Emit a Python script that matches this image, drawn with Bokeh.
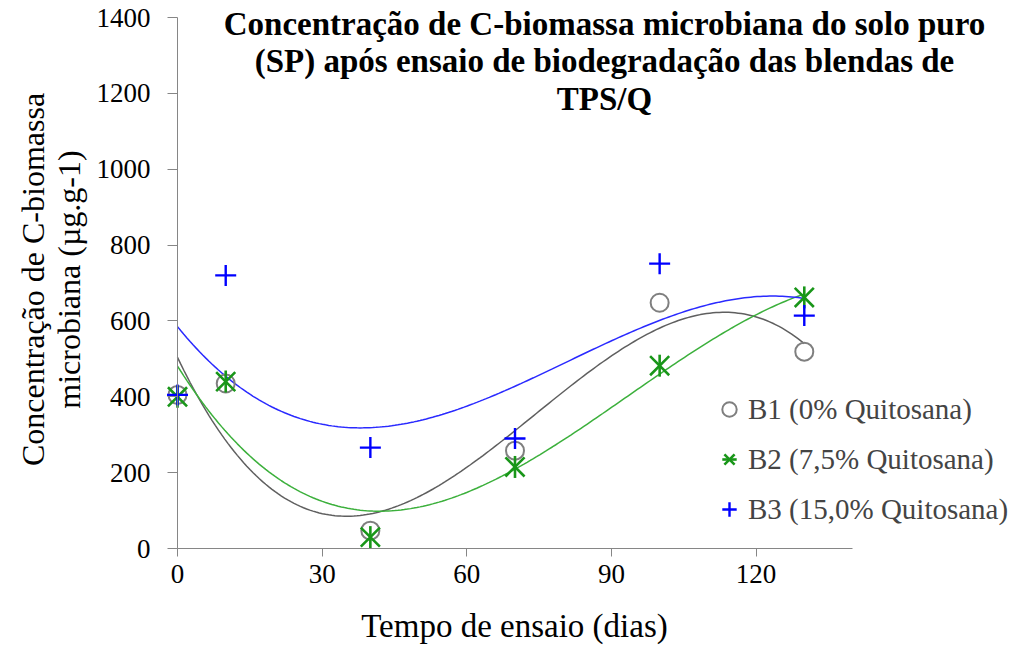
import numpy as np
from bokeh.plotting import figure
from bokeh.models import Range1d, FixedTicker, Label, Legend, LegendItem, LinearAxis
from bokeh.embed import file_html
from bokeh.resources import INLINE

days = [0, 10, 40, 70, 100, 130]
b1 = [405, 435, 47, 258, 648, 519]
b2 = [400, 440, 30, 215, 482, 662]
b3 = [405, 720, 266, 290, 751, 614]
names = ["B1 (0% Quitosana)", "B2 (7,5% Quitosana)", "B3 (15,0% Quitosana)"]
x_ticks = [0, 30, 60, 90, 120]
y_ticks = [0, 200, 400, 600, 800, 1000, 1200, 1400]
x_bounds = (0, 140)
y_bounds = (0, 1400)
title_lines = ["Concentração de C-biomassa microbiana do solo puro",
               "(SP) após ensaio de biodegradação das blendas de",
               "TPS/Q"]
ylabel_lines = ["Concentração de C-biomassa", "microbiana (µg.g-1)"]
xlabel = "Tempo de ensaio (dias)"

FONT = "Liberation Serif"
W, H = 1023, 645
# plot area in page pixels
L, R, T, B = 177, 852, 17, 548
sx = (R - L) / (x_bounds[1] - x_bounds[0])
sy = (B - T) / (y_bounds[1] - y_bounds[0])

def dx(px):
    return x_bounds[0] + (px - L) / sx

def dy(py):
    return y_bounds[0] + (B - py) / sy

p = figure(width=W, height=H, output_backend="svg", toolbar_location=None,
           x_range=Range1d(dx(0), dx(W)), y_range=Range1d(dy(H), dy(0)),
           x_axis_location=None, y_axis_location=None,
           min_border=0, min_border_left=0, min_border_right=0,
           min_border_top=0, min_border_bottom=0)
p.grid.visible = False
p.outline_line_color = None
p.background_fill_color = "white"
p.border_fill_color = "white"

xax = LinearAxis(fixed_location=0, bounds=x_bounds, ticker=FixedTicker(ticks=x_ticks))
yax = LinearAxis(fixed_location=0, bounds=y_bounds, ticker=FixedTicker(ticks=y_ticks))
for ax in (xax, yax):
    ax.axis_line_color = "#868686"
    ax.major_tick_line_color = "#868686"
    ax.minor_tick_line_color = None
    ax.major_tick_in = 0
    ax.major_label_text_font = FONT
    ax.major_label_text_font_size = "27px"
    ax.major_label_text_color = "black"
    ax.axis_line_width = 1
xax.major_tick_out = 8
yax.major_tick_out = 10
xax.major_label_standoff = 8
yax.major_label_standoff = 17
p.add_layout(xax, "below")
p.add_layout(yax, "left")

# trend lines (3rd order polynomial fits, as in the original spreadsheet)
xs = np.linspace(0, 130, 200)
line_colors = ["#5f5f5f", "#3cb03c", "#2a2aff"]
for vals, lc in zip([b1, b2, b3], line_colors):
    coef = np.polyfit(days, vals, 3)
    p.line(xs, np.polyval(coef, xs), line_color=lc, line_width=1.5)

r1 = p.scatter(days, b1, marker="circle", size=18, fill_color="white", fill_alpha=0,
               line_color="#7f7f7f", line_width=2)
r2a = p.scatter(days, b2, marker="x", size=27, line_color="#199619", line_width=2.6)
r2b = p.scatter(days, b2, marker="dash", angle=np.pi / 2, size=22, line_color="#199619", line_width=2.6)
r3 = p.scatter(days, b3, marker="cross", size=21, line_color="#0000ff", line_width=2.4)

legend = Legend(items=[LegendItem(label=names[0], renderers=[r1]),
                       LegendItem(label=names[1], renderers=[r2a, r2b]),
                       LegendItem(label=names[2], renderers=[r3])],
                location=(711, 116), orientation="vertical",
                label_text_font=FONT, label_text_font_size="29px",
                glyph_width=36, glyph_height=40, label_height=40, spacing=10,
                label_standoff=1, padding=0, margin=0,
                background_fill_alpha=0, border_line_alpha=0)
p.add_layout(legend, "center")

for line, py in zip(title_lines, [23, 60, 98]):
    p.add_layout(Label(x=dx(604), y=dy(py), text=line, text_align="center", text_baseline="middle",
                       text_font=FONT, text_font_style="bold", text_font_size="33px", text_color="black"))

for line, px in zip(ylabel_lines, [32, 68]):
    p.add_layout(Label(x=dx(px), y=dy(279), text=line, angle=np.pi / 2, text_align="center",
                       text_baseline="middle", text_font=FONT, text_font_size="32px", text_color="black"))

p.add_layout(Label(x=dx(514), y=dy(625), text=xlabel, text_align="center", text_baseline="middle",
                   text_font=FONT, text_font_size="33px", text_color="black"))

open("out.html", "w").write(file_html(p, INLINE))
